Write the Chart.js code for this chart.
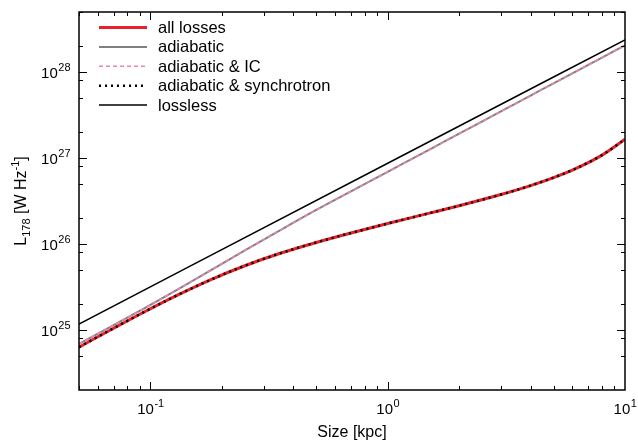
<!DOCTYPE html>
<html>
<head>
<meta charset="utf-8">
<script src="https://cdn.jsdelivr.net/npm/chart.js@4/dist/chart.umd.min.js"></script>
<style>
  html, body { margin: 0; padding: 0; background: #fff; }
  #wrap { width: 638px; height: 443px; }
</style>
</head>
<body>
<div id="wrap"><canvas id="lumChart" width="638" height="443"></canvas></div>
<script>
// sizes in kpc and L178 in W/Hz
const sizeKpc = [0.05, 0.07, 0.095, 0.13, 0.18, 0.25, 0.35, 0.5, 0.7, 1, 1.5, 2, 3, 4, 5, 6, 7, 8, 10];
const allLosses = [6.31e24, 1.047e25, 1.64e25, 2.54e25, 3.85e25, 5.58e25, 7.74e25, 1.042e26, 1.343e26, 1.73e26,
    2.286e26, 2.786e26, 3.758e26, 4.775e26, 5.916e26, 7.244e26, 8.85e26, 1.081e27, 1.652e27];
const adiabatic = [6.87e24, 1.138e25, 1.811e25, 2.951e25, 4.966e25, 8.414e25, 1.432e26, 2.489e26, 4.093e26, 6.918e26,
    1.256e27, 1.919e27, 3.483e27, 5.321e27, 7.396e27, 9.66e27, 1.211e28, 1.472e28, 2.046e28];
const adiabaticIC = adiabatic.slice();      // lies on top of the adiabatic curve
const adiabaticSync = allLosses.slice();    // lies on top of the all-losses curve
const losslessSize = [0.05, 1, 10];
const lossless = [1.17e25, 8.7e26, 2.37e28];

// axis ticks
const xMajorExp = [-1, 0, 1];
const xMinorMult = [2, 3, 4, 5, 6, 7, 8, 9];
const yMajorExp = [25, 26, 27, 28];
const yMinorMult = [2, 5, 8];

const pts = (xs, ys) => xs.map((v, i) => ({ x: v, y: ys[i] }));

const FONT = '"Liberation Sans", Arial, Helvetica, sans-serif';

// draw "10" with a superscript exponent
function drawPow(ctx, exp, x, y, align) {
    ctx.font = '15px ' + FONT;
    const wb = ctx.measureText('10').width;
    ctx.font = '11px ' + FONT;
    const we = ctx.measureText(String(exp)).width;
    let x0 = x;
    if (align === 'center') x0 = x - (wb + we) / 2;
    if (align === 'right') x0 = x - (wb + we);
    ctx.textAlign = 'left';
    ctx.textBaseline = 'alphabetic';
    ctx.font = '15px ' + FONT;
    ctx.fillText('10', x0, y);
    ctx.font = '11px ' + FONT;
    ctx.fillText(String(exp), x0 + wb + 0.5, y - 7);
}

const framePlugin = {
    id: 'frame',
    afterDatasetsDraw(chart) {
        const { ctx, chartArea: a, scales } = chart;
        const xs = scales.x, ys = scales.y;
        ctx.save();
        ctx.strokeStyle = '#000';
        ctx.fillStyle = '#000';
        ctx.lineWidth = 1.5;
        ctx.setLineDash([]);
        ctx.strokeRect(a.left, a.top, a.right - a.left, a.bottom - a.top);

        ctx.lineWidth = 1;
        const xTick = (v, len) => {
            const px = Math.round(xs.getPixelForValue(v)) + 0.5;
            if (px < a.left || px > a.right) return;
            ctx.beginPath();
            ctx.moveTo(px, a.bottom); ctx.lineTo(px, a.bottom - len);
            ctx.moveTo(px, a.top); ctx.lineTo(px, a.top + len);
            ctx.stroke();
        };
        const yTick = (v, len) => {
            const py = Math.round(ys.getPixelForValue(v)) + 0.5;
            if (py < a.top || py > a.bottom) return;
            ctx.beginPath();
            ctx.moveTo(a.left, py); ctx.lineTo(a.left + len, py);
            ctx.moveTo(a.right, py); ctx.lineTo(a.right - len, py);
            ctx.stroke();
        };
        for (let d = -2; d <= 1; d++) {
            xTick(Math.pow(10, d), 8);
            xMinorMult.forEach(m => xTick(m * Math.pow(10, d), 4));
        }
        for (let d = 24; d <= 28; d++) {
            yTick(Math.pow(10, d), 8);
            yMinorMult.forEach(m => yTick(m * Math.pow(10, d), 4));
        }

        // tick labels
        xMajorExp.forEach(e => drawPow(ctx, e, xs.getPixelForValue(Math.pow(10, e)), 414, 'center'));
        yMajorExp.forEach(e => drawPow(ctx, e, 70, ys.getPixelForValue(Math.pow(10, e)) + 6, 'right'));

        // x title
        ctx.font = '16px ' + FONT;
        ctx.textAlign = 'center';
        ctx.fillText('Size [kpc]', (a.left + a.right) / 2, 437);

        // y title: L_178 [W Hz^-1]
        ctx.save();
        ctx.translate(26, (a.top + a.bottom) / 2);
        ctx.rotate(-Math.PI / 2);
        const parts = [
            { t: 'L', f: 16, dy: 0 },
            { t: '178', f: 11, dy: 4 },
            { t: ' [W Hz', f: 16, dy: 0 },
            { t: '-1', f: 11, dy: -7 },
            { t: ']', f: 16, dy: 0 }
        ];
        let total = 0;
        parts.forEach(p => { ctx.font = p.f + 'px ' + FONT; p.w = ctx.measureText(p.t).width; total += p.w; });
        let cx = -total / 2;
        ctx.textAlign = 'left';
        parts.forEach(p => { ctx.font = p.f + 'px ' + FONT; ctx.fillText(p.t, cx, p.dy); cx += p.w; });
        ctx.restore();

        // legend, inside the plot at upper left
        chart.data.datasets.forEach((ds, i) => {
            const ly = 27.5 + i * 19.4;
            ctx.strokeStyle = ds.borderColor;
            ctx.lineWidth = ds.borderWidth;
            ctx.setLineDash(ds.borderDash || []);
            ctx.beginPath();
            ctx.moveTo(99, ly); ctx.lineTo(147, ly);
            ctx.stroke();
            ctx.setLineDash([]);
            ctx.fillStyle = '#000';
            ctx.font = '16.5px ' + FONT;
            ctx.textAlign = 'left';
            ctx.textBaseline = 'alphabetic';
            ctx.fillText(ds.label, 158, ly + 5.5);
        });
        ctx.restore();
    }
};

const lineDs = (label, data, color, width, dash, order) => ({
    label: label,
    data: data,
    borderColor: color,
    borderWidth: width,
    borderDash: dash,
    pointRadius: 0,
    fill: false,
    cubicInterpolationMode: 'monotone',
    order: order
});

new Chart(document.getElementById('lumChart'), {
    type: 'line',
    data: {
        datasets: [
            lineDs('all losses', pts(sizeKpc, allLosses), 'rgb(232,32,40)', 3, [], 5),
            lineDs('adiabatic', pts(sizeKpc, adiabatic), 'rgb(128,128,128)', 2, [], 4),
            lineDs('adiabatic & IC', pts(sizeKpc, adiabaticIC), 'rgb(240,130,180)', 1.5, [4, 3], 3),
            lineDs('adiabatic & synchrotron', pts(sizeKpc, adiabaticSync), '#000', 2.5, [2, 4], 2),
            lineDs('lossless', pts(losslessSize, lossless), '#000', 1.5, [], 1)
        ]
    },
    options: {
        responsive: false,
        animation: false,
        layout: { padding: { left: 79, right: 13, top: 12, bottom: 53 } },
        plugins: { legend: { display: false }, tooltip: { enabled: false } },
        scales: {
            x: { type: 'logarithmic', min: 0.05, max: 10, display: false },
            y: { type: 'logarithmic', min: 2e24, max: 5e28, display: false }
        }
    },
    plugins: [framePlugin]
});
</script>
</body>
</html>
